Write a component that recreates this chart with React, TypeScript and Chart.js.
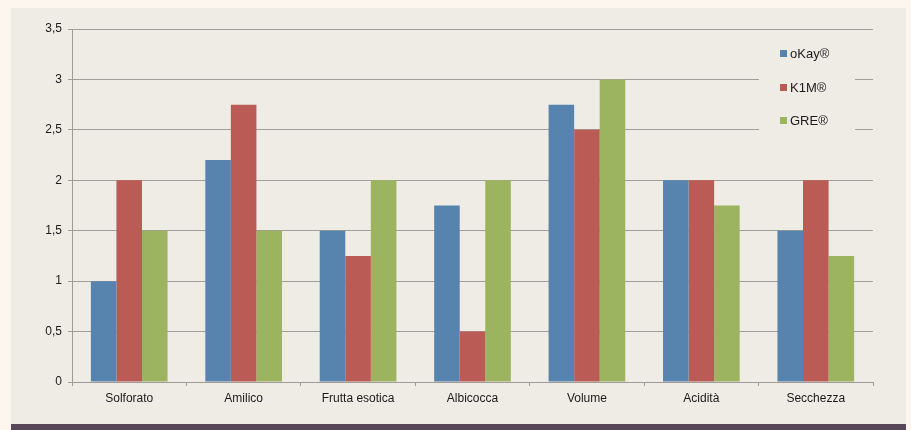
import React, { useEffect, useRef } from "react";
import { Chart, registerables } from "chart.js";

Chart.register(...registerables);

const categories = ["Solforato", "Amilico", "Frutta esotica", "Albicocca", "Volume", "Acidità", "Secchezza"];
const seriesNames = ["oKay®", "K1M®", "GRE®"];
const okayValues = [1, 2.2, 1.5, 1.75, 2.75, 2, 1.5];
const k1mValues = [2, 2.75, 1.25, 0.5, 2.5, 2, 2];
const greValues = [1.5, 1.5, 2, 2, 3, 1.75, 1.25];
const seriesColors = ["#5784ae", "#bb5b55", "#9cb35f"];

const PANEL = "#efebe5";

const bgPlugin = {
  id: "bgPlugin",
  beforeDraw(chart: any) {
    const { ctx, width, height } = chart;
    ctx.save();
    ctx.fillStyle = "#fdf6ee";
    ctx.fillRect(0, 0, width, height);
    ctx.fillStyle = PANEL;
    ctx.fillRect(11, 8, 895, 417);
    ctx.fillStyle = "#574759";
    ctx.fillRect(11, 424, 895, 6);
    ctx.restore();
  },
};

const legendPlugin = {
  id: "customLegend",
  afterDraw(chart: any) {
    const { ctx } = chart;
    ctx.save();
    ctx.fillStyle = PANEL;
    ctx.fillRect(759, 38, 96, 102);
    const ys = [54, 88, 121];
    chart.data.datasets.forEach((ds: any, i: number) => {
      ctx.fillStyle = ds.backgroundColor;
      ctx.fillRect(780, ys[i] - 4, 7, 7);
      ctx.fillStyle = "#1a1a1a";
      ctx.font = "13px 'Liberation Sans', Arial, sans-serif";
      ctx.textBaseline = "middle";
      ctx.textAlign = "left";
      ctx.fillText(ds.label, 790, ys[i]);
    });
    ctx.restore();
  },
};

export default function App() {
  const ref = useRef<HTMLCanvasElement>(null);
  useEffect(() => {
    document.body.style.margin = "0";
    const values = [okayValues, k1mValues, greValues];
    const chart = new Chart(ref.current!, {
      type: "bar",
      data: {
        labels: categories,
        datasets: seriesNames.map((name, i) => ({
          label: name,
          data: values[i],
          backgroundColor: seriesColors[i],
          borderWidth: 0,
          categoryPercentage: 0.67,
          barPercentage: 1,
        })),
      },
      options: {
        animation: false,
        responsive: false,
        maintainAspectRatio: false,
        layout: { padding: { left: 11, right: 38, top: 29, bottom: 0 } },
        plugins: { legend: { display: false }, tooltip: { enabled: false } },
        scales: {
          x: {
            afterFit: (s: any) => { s.height = 48; },
            grid: { display: true, drawOnChartArea: false, drawTicks: true, tickLength: 4, color: "#9e9a95" },
            border: { color: "#9e9a95" },
            ticks: { color: "#1a1a1a", font: { family: "'Liberation Sans', Arial, sans-serif", size: 12 }, padding: 5 },
          },
          y: {
            min: 0,
            max: 3.5,
            afterFit: (s: any) => { s.width = 61; },
            grid: { color: "#a29e99", tickLength: 4 },
            border: { color: "#9e9a95" },
            ticks: {
              stepSize: 0.5,
              color: "#1a1a1a",
              padding: 6,
              font: { family: "'Liberation Sans', Arial, sans-serif", size: 12 },
              callback: (v: any) => String(v).replace(".", ","),
            },
          },
        },
      },
      plugins: [bgPlugin, legendPlugin],
    });
    return () => chart.destroy();
  }, []);
  return <canvas ref={ref} width={911} height={430} style={{ display: "block" }} />;
}
